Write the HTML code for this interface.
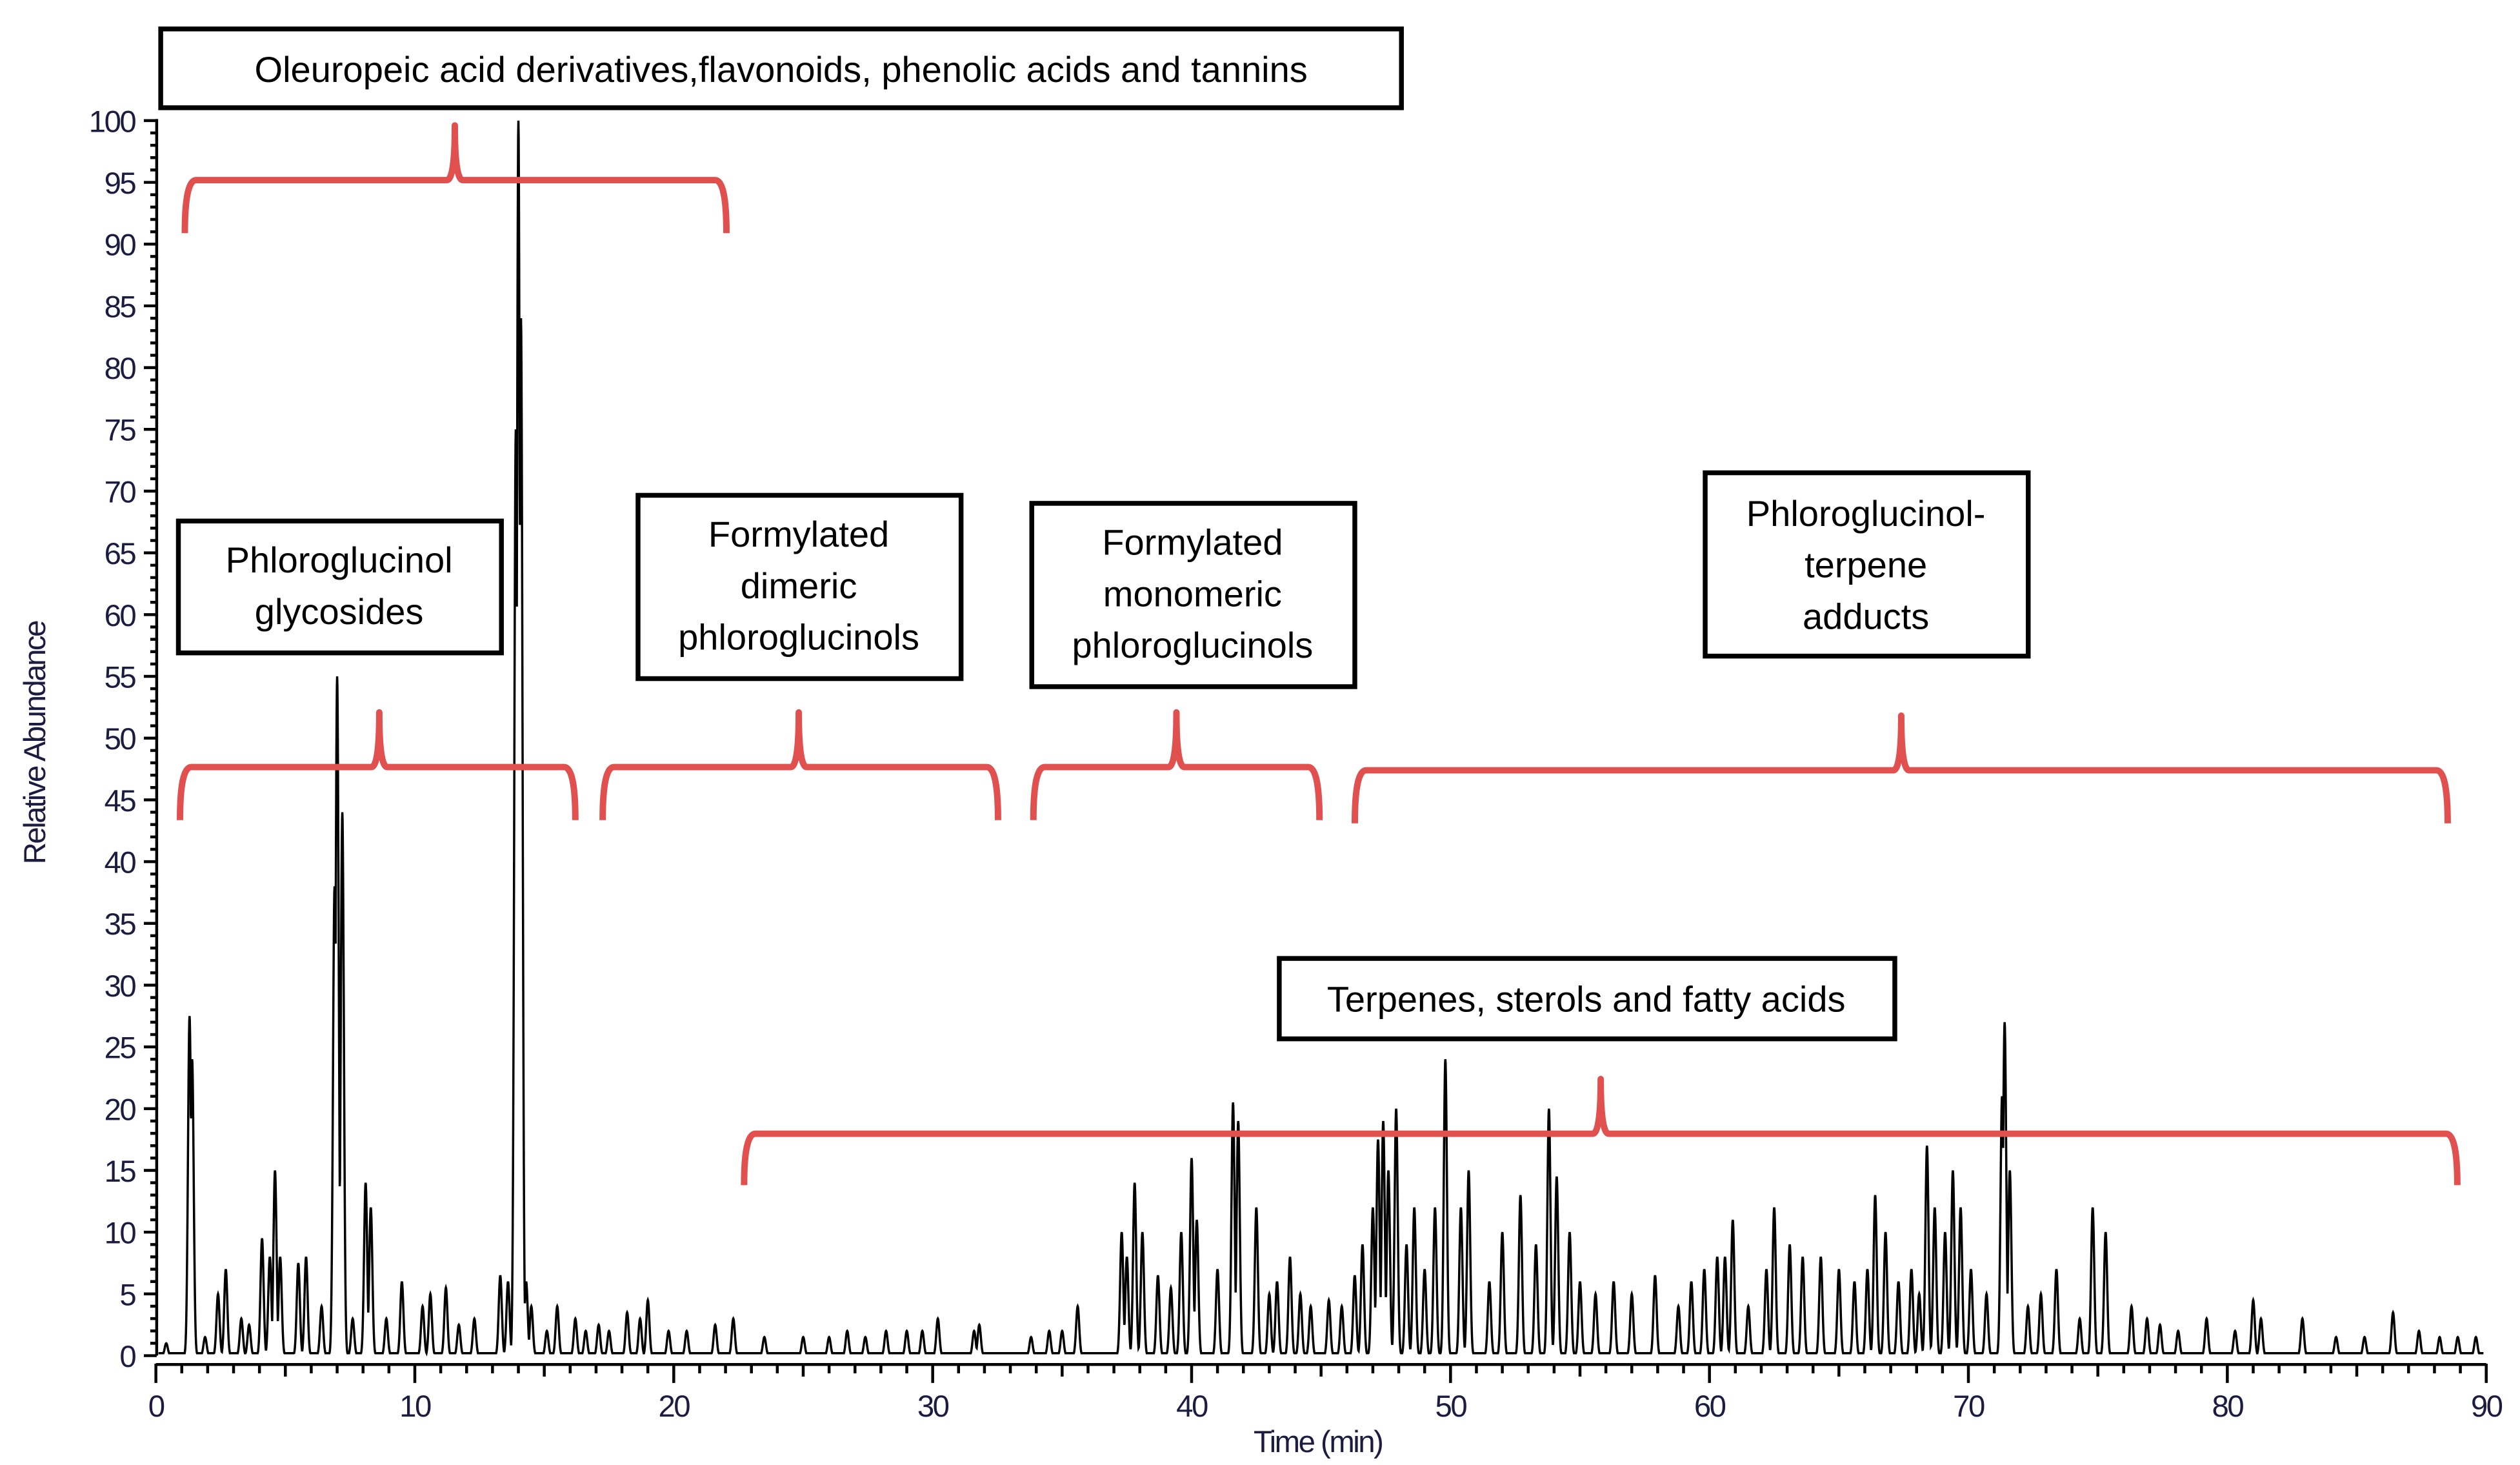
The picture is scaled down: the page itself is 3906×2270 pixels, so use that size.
<!DOCTYPE html>
<html><head><meta charset="utf-8"><style>
html,body{margin:0;padding:0;background:#fff;}
svg{display:block;}
.box{fill:#fff;stroke:#000;stroke-width:3;}
.bt{font-family:"Liberation Sans",sans-serif;font-size:22.5px;fill:#000;text-anchor:middle;}
.br{fill:none;stroke:#e0504f;stroke-width:4;stroke-linejoin:round;}
.tk{font-family:"Liberation Sans",sans-serif;font-size:19px;fill:#1c1c40;letter-spacing:-1px;}
</style></head><body>
<svg id="chart" width="3906" height="2270" viewBox="0 0 1568 911" preserveAspectRatio="none" xmlns="http://www.w3.org/2000/svg">
<g id="axes"></g>
<path id="trace" fill="none" stroke="#000" stroke-width="1.4"/>
<text class="tk" transform="translate(28,462) rotate(-90)" text-anchor="middle" style="font-size:19px">Relative Abundance</text>
<text class="tk" x="820" y="903" text-anchor="middle" style="font-size:19px">Time (min)</text>

<g><rect class="box" x="100" y="18" width="772" height="49"/><text class="bt" x="486" y="51">Oleuropeic acid derivatives,flavonoids, phenolic acids and tannins</text></g>
<g><rect class="box" x="111" y="324" width="201" height="82"/><text class="bt" x="211" y="356">Phloroglucinol</text><text class="bt" x="211" y="388">glycosides</text></g>
<g><rect class="box" x="397" y="308" width="201" height="114"/><text class="bt" x="497" y="340">Formylated</text><text class="bt" x="497" y="372">dimeric</text><text class="bt" x="497" y="404">phloroglucinols</text></g>
<g><rect class="box" x="642" y="313" width="201" height="114"/><text class="bt" x="742" y="345">Formylated</text><text class="bt" x="742" y="377">monomeric</text><text class="bt" x="742" y="409">phloroglucinols</text></g>
<g><rect class="box" x="1061" y="294" width="201" height="114"/><text class="bt" x="1161" y="327">Phloroglucinol-</text><text class="bt" x="1161" y="359">terpene</text><text class="bt" x="1161" y="391">adducts</text></g>
<g><rect class="box" x="796" y="596" width="383" height="50"/><text class="bt" x="987" y="629">Terpenes, sterols and fatty acids</text></g>

<path class="br" d="M115,145 Q115,112 122,112 L278,112 Q283,112 283,78 Q283,112 288,112 L445,112 Q452,112 452,145"/>
<path class="br" d="M112,510 Q112,477 119,477 L231,477 Q236,477 236,443 Q236,477 241,477 L351,477 Q358,477 358,510"/>
<path class="br" d="M375,510 Q375,477 382,477 L492,477 Q497,477 497,443 Q497,477 502,477 L614,477 Q621,477 621,510"/>
<path class="br" d="M643,510 Q643,477 650,477 L727,477 Q732,477 732,443 Q732,477 737,477 L814,477 Q821,477 821,510"/>
<path class="br" d="M843,512 Q843,479 850,479 L1178,479 Q1183,479 1183,445 Q1183,479 1188,479 L1516,479 Q1523,479 1523,512"/>
<path class="br" d="M463,737 Q463,705 470,705 L991,705 Q996,705 996,671 Q996,705 1001,705 L1522,705 Q1529,705 1529,737"/>
</svg>
<script>
const peakTimes=[0.4,1.3,1.4,1.9,2.4,2.7,3.3,3.6,4.1,4.4,4.6,4.8,5.5,5.8,6.4,6.9,7.0,7.2,7.6,8.1,8.3,8.9,9.5,10.3,10.6,11.2,11.7,12.3,13.3,13.6,13.9,14.0,14.1,14.3,14.5,15.1,15.5,16.2,16.6,17.1,17.5,18.2,18.7,19.0,19.8,20.5,21.6,22.3,23.5,25,26,26.7,27.4,28.2,29,29.6,30.2,31.6,31.8,33.8,34.5,35,35.6,37.3,37.5,37.8,38.1,38.7,39.2,39.6,40,40.2,41,41.6,41.8,42.5,43,43.3,43.8,44.2,44.6,45.3,45.8,46.3,46.6,47.0,47.2,47.4,47.6,47.9,48.3,48.6,49.0,49.4,49.8,50.4,50.7,51.5,52.0,52.7,53.3,53.8,54.1,54.6,55,55.6,56.3,57.0,57.9,58.8,59.3,59.8,60.3,60.6,60.9,61.5,62.2,62.5,63.1,63.6,64.3,65.0,65.6,66.1,66.4,66.8,67.3,67.8,68.1,68.4,68.7,69.1,69.4,69.7,70.1,70.7,71.3,71.4,71.6,72.3,72.8,73.4,74.3,74.8,75.3,76.3,76.9,77.4,78.1,79.2,80.3,81.0,81.3,82.9,84.2,85.3,86.4,87.4,88.2,88.9,89.6];
const peakHeights=[1,27.5,24,1.5,5,7,3,2.5,9.5,8,15,8,7.5,8,4,38,55,44,3,14,12,3,6,4,5,5.5,2.5,3,6.5,6,75,100,84,6,4,2,4,3,2,2.5,2,3.5,3,4.5,2,2,2.5,3,1.5,1.5,1.5,2,1.5,2,2,2,3,2,2.5,1.5,2,2,4,10,8,14,10,6.5,5.5,10,16,11,7,20.5,19,12,5,6,8,5,4,4.5,4,6.5,9,12,17.5,19,15,20,9,12,7,12,24,12,15,6,10,13,9,20,14.5,10,6,5,6,5,6.5,4,6,7,8,8,11,4,7,12,9,8,8,7,6,7,13,10,6,7,5,17,12,10,15,12,7,5,21,27,15,4,5,7,3,12,10,4,3,2.5,2,3,2,4.5,3,3,1.5,1.5,3.5,2,1.5,1.5,1.5];
const yTicks=[0,5,10,15,20,25,30,35,40,45,50,55,60,65,70,75,80,85,90,95,100];
const xTicks=[0,10,20,30,40,50,60,70,80,90];
const X=t=>97+t*(1547-97)/90;
const Y=v=>843-v*(843-75)/100;
const NS="http://www.w3.org/2000/svg";
const axes=document.getElementById('axes');
function mk(tag,attrs,parent){const e=document.createElementNS(NS,tag);for(const k in attrs)e.setAttribute(k,attrs[k]);(parent||axes).appendChild(e);return e;}
let d='M97.5,'+(Y(100)-1)+' L97.5,'+(Y(0))+' M97,848.5 L'+X(90)+',848.5';
for(let v=0;v<=100;v++){const len=v%5===0?8:4;d+=' M'+(97.5-len)+','+Y(v)+' L97.5,'+Y(v);}
for(let t=0;t<=90;t++){const len=t%10===0?12:(t%5===0?8:6);d+=' M'+X(t)+',848 L'+X(t)+','+(848+len);}
const ap=mk('path',{d:d,stroke:'#000','stroke-width':1.8,fill:'none'});


yTicks.forEach(v=>{const t=mk('text',{x:84,y:Y(v)+7,'text-anchor':'end',class:'tk'});t.textContent=v;

});
xTicks.forEach(v=>{const t=mk('text',{x:X(v),y:881,'text-anchor':'middle',class:'tk'});t.textContent=v;

});
let pts=[];
const step=0.01,sig=0.06;
for(let t=0.1;t<=89.9;t+=step){
  let v=0.2;
  for(let i=0;i<peakTimes.length;i++){const dt=t-peakTimes[i];if(Math.abs(dt)<0.4){const g=peakHeights[i]*Math.exp(-dt*dt/(2*sig*sig));if(g>v)v=g;}}
  pts.push(X(t).toFixed(2)+','+Y(v).toFixed(2));
}
document.getElementById('trace').setAttribute('d','M'+pts.join(' L'));
</script>
</body></html>
